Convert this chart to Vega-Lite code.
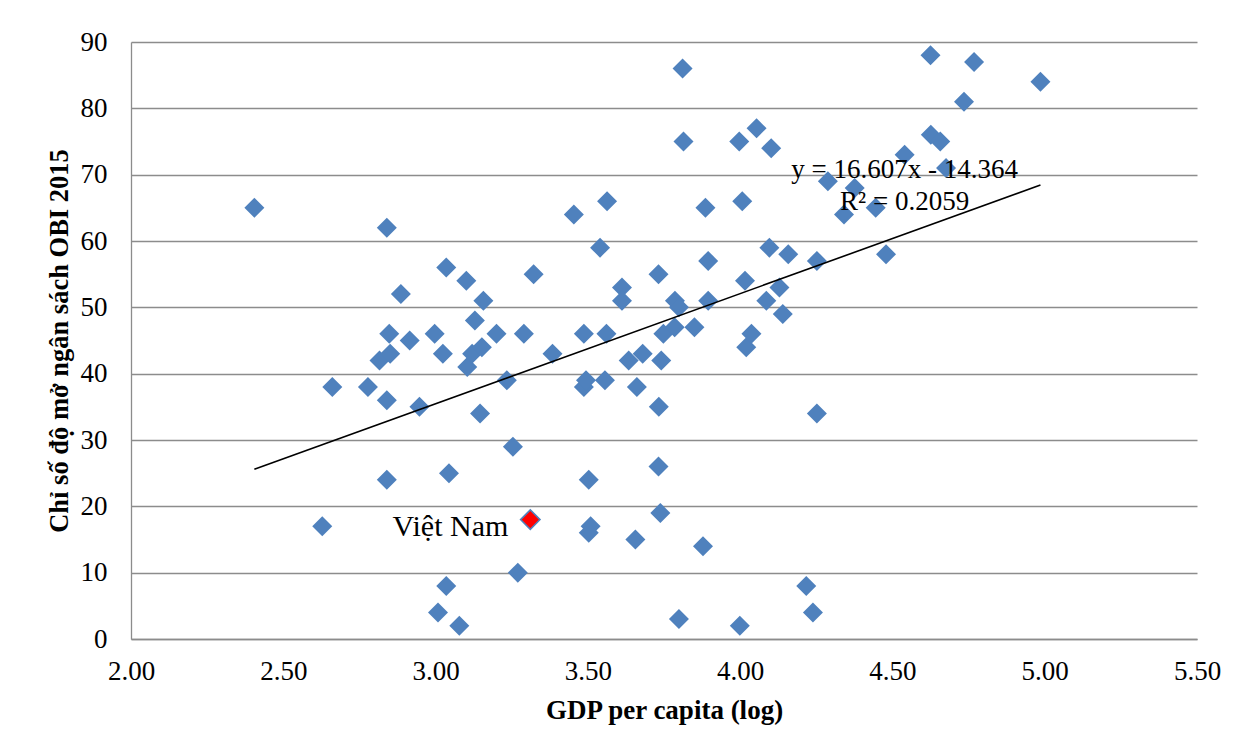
{
  "$schema": "https://vega.github.io/schema/vega-lite/v6.json",
  "width": 1066,
  "height": 597,
  "autosize": {"type": "none"},
  "padding": {"left": 131, "top": 42, "right": 46, "bottom": 110},
  "background": "white",
  "config": {"view": {"stroke": null}, "font": "Liberation Serif"},
  "datasets": {
    "countries": [
      {"gdp_log": 2.405, "obi": 65}, {"gdp_log": 2.628, "obi": 17}, {"gdp_log": 2.661, "obi": 38},
      {"gdp_log": 2.778, "obi": 38}, {"gdp_log": 2.816, "obi": 42}, {"gdp_log": 2.84, "obi": 62},
      {"gdp_log": 2.848, "obi": 46}, {"gdp_log": 2.851, "obi": 43}, {"gdp_log": 2.84, "obi": 36},
      {"gdp_log": 2.84, "obi": 24}, {"gdp_log": 2.886, "obi": 52}, {"gdp_log": 2.915, "obi": 45},
      {"gdp_log": 2.947, "obi": 35}, {"gdp_log": 2.997, "obi": 46}, {"gdp_log": 3.008, "obi": 4},
      {"gdp_log": 3.024, "obi": 43}, {"gdp_log": 3.035, "obi": 56}, {"gdp_log": 3.035, "obi": 8},
      {"gdp_log": 3.044, "obi": 25}, {"gdp_log": 3.078, "obi": 2}, {"gdp_log": 3.101, "obi": 54},
      {"gdp_log": 3.104, "obi": 41}, {"gdp_log": 3.12, "obi": 43}, {"gdp_log": 3.129, "obi": 48},
      {"gdp_log": 3.152, "obi": 44}, {"gdp_log": 3.146, "obi": 34}, {"gdp_log": 3.157, "obi": 51},
      {"gdp_log": 3.2, "obi": 46}, {"gdp_log": 3.234, "obi": 39}, {"gdp_log": 3.254, "obi": 29},
      {"gdp_log": 3.27, "obi": 10}, {"gdp_log": 3.29, "obi": 46}, {"gdp_log": 3.322, "obi": 55},
      {"gdp_log": 3.384, "obi": 43}, {"gdp_log": 3.454, "obi": 64}, {"gdp_log": 3.487, "obi": 46},
      {"gdp_log": 3.487, "obi": 38}, {"gdp_log": 3.494, "obi": 39}, {"gdp_log": 3.503, "obi": 24},
      {"gdp_log": 3.509, "obi": 17}, {"gdp_log": 3.503, "obi": 16}, {"gdp_log": 3.54, "obi": 59},
      {"gdp_log": 3.563, "obi": 66}, {"gdp_log": 3.556, "obi": 39}, {"gdp_log": 3.561, "obi": 46},
      {"gdp_log": 3.612, "obi": 53}, {"gdp_log": 3.612, "obi": 51}, {"gdp_log": 3.634, "obi": 42},
      {"gdp_log": 3.656, "obi": 15}, {"gdp_log": 3.661, "obi": 38}, {"gdp_log": 3.68, "obi": 43},
      {"gdp_log": 3.732, "obi": 55}, {"gdp_log": 3.732, "obi": 26}, {"gdp_log": 3.733, "obi": 35},
      {"gdp_log": 3.738, "obi": 19}, {"gdp_log": 3.741, "obi": 42}, {"gdp_log": 3.748, "obi": 46},
      {"gdp_log": 3.785, "obi": 47}, {"gdp_log": 3.786, "obi": 51}, {"gdp_log": 3.799, "obi": 50},
      {"gdp_log": 3.799, "obi": 3}, {"gdp_log": 3.811, "obi": 86}, {"gdp_log": 3.814, "obi": 75},
      {"gdp_log": 3.85, "obi": 47}, {"gdp_log": 3.878, "obi": 14}, {"gdp_log": 3.886, "obi": 65},
      {"gdp_log": 3.895, "obi": 57}, {"gdp_log": 3.895, "obi": 51}, {"gdp_log": 3.997, "obi": 75},
      {"gdp_log": 3.999, "obi": 2}, {"gdp_log": 4.007, "obi": 66}, {"gdp_log": 4.016, "obi": 54},
      {"gdp_log": 4.02, "obi": 44}, {"gdp_log": 4.037, "obi": 46}, {"gdp_log": 4.054, "obi": 77},
      {"gdp_log": 4.086, "obi": 51}, {"gdp_log": 4.096, "obi": 59}, {"gdp_log": 4.102, "obi": 74},
      {"gdp_log": 4.129, "obi": 53}, {"gdp_log": 4.14, "obi": 49}, {"gdp_log": 4.158, "obi": 58},
      {"gdp_log": 4.217, "obi": 8}, {"gdp_log": 4.239, "obi": 4}, {"gdp_log": 4.252, "obi": 34},
      {"gdp_log": 4.252, "obi": 57}, {"gdp_log": 4.288, "obi": 69}, {"gdp_log": 4.341, "obi": 64},
      {"gdp_log": 4.376, "obi": 68}, {"gdp_log": 4.445, "obi": 65}, {"gdp_log": 4.479, "obi": 58},
      {"gdp_log": 4.54, "obi": 73}, {"gdp_log": 4.625, "obi": 88}, {"gdp_log": 4.626, "obi": 76},
      {"gdp_log": 4.657, "obi": 75}, {"gdp_log": 4.676, "obi": 71}, {"gdp_log": 4.735, "obi": 81},
      {"gdp_log": 4.768, "obi": 87}, {"gdp_log": 4.986, "obi": 84}
    ],
    "vietnam": [{"gdp_log": 3.311, "obi": 18, "label": "Việt Nam"}],
    "trend": [{"gdp_log": 2.405, "obi": 25.58}, {"gdp_log": 4.986, "obi": 68.44}],
    "equation": [
      {"gdp_log": 4.54, "obi": 69.54, "label": "y = 16.607x - 14.364"},
      {"gdp_log": 4.54, "obi": 64.72, "label": "R² = 0.2059"}
    ]
  },
  "layer": [
    {
      "data": {"name": "countries"},
      "mark": {"type": "point", "shape": "diamond", "filled": true, "fill": "#4F81BD", "opacity": 1, "size": 400, "strokeWidth": 0},
      "encoding": {
        "x": {
          "field": "gdp_log", "type": "quantitative",
          "scale": {"domain": [2, 5.5], "nice": false, "zero": false},
          "axis": {
            "values": [2, 2.5, 3, 3.5, 4, 4.5, 5, 5.5], "format": ".2f",
            "grid": false, "ticks": false, "tickSize": 0,
            "domainColor": "#8c8c8c", "domainWidth": 1.3,
            "labelFont": "Liberation Serif", "labelFontSize": 27, "labelColor": "black",
            "labelPadding": 40, "labelBaseline": "alphabetic", "labelFlush": false, "labelOverlap": false,
            "title": "GDP per capita (log)", "titleFont": "Liberation Serif", "titleFontSize": 27,
            "titleFontWeight": "bold", "titleColor": "black", "titleBaseline": "alphabetic", "titleY": 79
          }
        },
        "y": {
          "field": "obi", "type": "quantitative",
          "scale": {"domain": [0, 90], "nice": false},
          "axis": {
            "values": [0, 10, 20, 30, 40, 50, 60, 70, 80, 90],
            "grid": true, "gridColor": "#8c8c8c", "gridWidth": 1.3,
            "ticks": false, "tickSize": 0,
            "domainColor": "#8c8c8c", "domainWidth": 1.3,
            "labelFont": "Liberation Serif", "labelFontSize": 27, "labelColor": "black",
            "labelPadding": 24, "labelFlush": false, "labelOverlap": false,
            "title": "Chỉ số độ mở ngân sách OBI 2015", "titleFont": "Liberation Serif", "titleFontSize": 26.5,
            "titleFontWeight": "bold", "titleColor": "black", "titleBaseline": "alphabetic", "titleX": -64
          }
        }
      }
    },
    {
      "data": {"name": "equation"},
      "mark": {"type": "text", "font": "Liberation Serif", "fontSize": 27, "align": "center", "baseline": "alphabetic", "color": "black"},
      "encoding": {
        "x": {"field": "gdp_log", "type": "quantitative"},
        "y": {"field": "obi", "type": "quantitative"},
        "text": {"field": "label"}
      }
    },
    {
      "data": {"name": "vietnam"},
      "mark": {"type": "point", "shape": "diamond", "filled": true, "fill": "#FF0000", "stroke": "#4F81BD", "strokeWidth": 1.5, "opacity": 1, "size": 380},
      "encoding": {
        "x": {"field": "gdp_log", "type": "quantitative"},
        "y": {"field": "obi", "type": "quantitative"}
      }
    },
    {
      "data": {"name": "vietnam"},
      "mark": {"type": "text", "font": "Liberation Serif", "fontSize": 30, "align": "right", "baseline": "alphabetic", "dx": -22, "dy": 16, "color": "black"},
      "encoding": {
        "x": {"field": "gdp_log", "type": "quantitative"},
        "y": {"field": "obi", "type": "quantitative"},
        "text": {"field": "label"}
      }
    },
    {
      "data": {"name": "trend"},
      "mark": {"type": "line", "color": "black", "strokeWidth": 1.6},
      "encoding": {
        "x": {"field": "gdp_log", "type": "quantitative"},
        "y": {"field": "obi", "type": "quantitative"}
      }
    }
  ]
}
